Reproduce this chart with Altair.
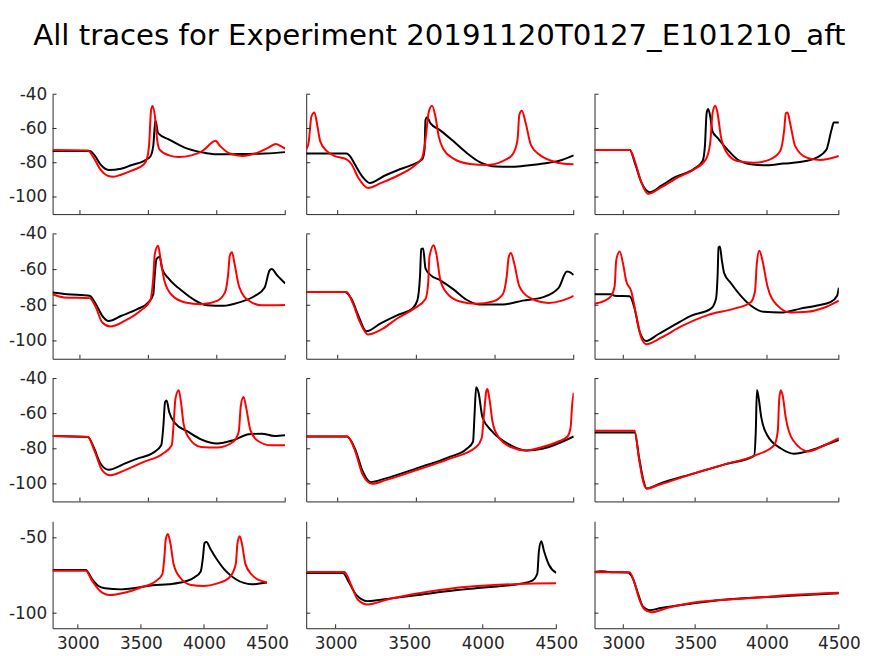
import altair as alt
import pandas as pd

TITLE = "All traces for Experiment 20191120T0127_E101210_aft"
X_TICKS = [3000, 3500, 4000, 4500]
Y_TICKS_TOP = [-40, -60, -80, -100]
Y_TICKS_BOTTOM = [-50, -100]

# ---- row 1 ----
p11_black_t = [2800, 3070, 3110, 3150, 3210, 3300, 3373, 3466, 3513, 3536, 3545, 3552, 3571, 3652, 3769, 3885, 4000, 4118, 4351, 4500]
p11_black_v = [-73.2, -73.2, -76, -81, -84.2, -83.5, -81.5, -79, -76.5, -70, -60, -55.4, -62.7, -66.5, -71.3, -73.8, -75.1, -75, -74.6, -73.8]
p11_red_t = [2800, 3058, 3100, 3150, 3200, 3245, 3300, 3373, 3466, 3490, 3505, 3520, 3531, 3548, 3564, 3582, 3652, 3722, 3815, 3909, 3960, 3990, 4025, 4095, 4188, 4281, 4375, 4433, 4468, 4500]
p11_red_v = [-72.6, -72.8, -77, -84, -87.5, -88.2, -87, -84.7, -81, -77.6, -70, -49.2, -46.9, -53, -66.5, -72.3, -75.7, -76.7, -75.7, -72.3, -68.5, -67.2, -70.3, -74.6, -76, -74.6, -71.3, -69, -70.3, -71.7]

p12_black_t = [2800, 3056, 3085, 3109, 3161, 3203, 3297, 3380, 3464, 3537, 3552, 3558, 3568, 3589, 3652, 3736, 3819, 3903, 4007, 4112, 4216, 4342, 4425, 4500]
p12_black_v = [-74.6, -74.6, -77, -80.9, -88.6, -91.8, -87.6, -84.4, -81.5, -78, -72.3, -55, -53.4, -56.9, -61.1, -67.5, -74.2, -79.6, -82.2, -82.4, -81.5, -80, -78.4, -75.7]
p12_red_t = [2800, 2815, 2833, 2852, 2868, 2889, 2931, 2983, 3056, 3088, 3130, 3192, 3276, 3380, 3485, 3537, 3558, 3579, 3600, 3621, 3642, 3673, 3736, 3840, 3945, 4049, 4112, 4143, 4154, 4170, 4195, 4227, 4279, 4363, 4425, 4500]
p12_red_v = [-72.3, -68.4, -53, -50.6, -56.9, -67.5, -73.2, -76.1, -78, -80.9, -88.6, -94.7, -91.8, -87.6, -81.9, -77, -66.5, -50.2, -46.7, -53, -64.6, -72.3, -77.6, -80.7, -81.3, -79, -75.1, -66.5, -52.1, -49.6, -56.9, -69.4, -75.1, -79, -80.5, -80.9]

p13_black_t = [2800, 3046, 3080, 3126, 3184, 3265, 3357, 3495, 3552, 3568, 3580, 3591, 3605, 3621, 3656, 3725, 3793, 3886, 4000, 4115, 4230, 4345, 4414, 4449, 4465, 4500]
p13_black_v = [-72.5, -72.5, -80, -91.5, -97.2, -93.4, -88.6, -83.4, -79, -70.3, -51, -48.6, -53, -61.7, -65.5, -72.3, -78, -80.9, -81.5, -80.5, -79.6, -77, -72.3, -60.7, -56.5, -56.5]
p13_red_t = [2800, 3046, 3080, 3126, 3172, 3265, 3380, 3495, 3575, 3605, 3621, 3640, 3656, 3679, 3713, 3793, 3908, 4023, 4092, 4120, 4131, 4143, 4161, 4196, 4276, 4368, 4500]
p13_red_v = [-72.6, -72.6, -79, -91.5, -98.2, -94.3, -88.6, -83.8, -78, -68.4, -51.1, -46.7, -51.1, -64.6, -73.2, -79, -80, -78, -73.2, -60.7, -51.1, -50.6, -56.9, -70.3, -77, -78.4, -76.1]

# ---- row 2 ----
p21_black_t = [2800, 2907, 3070, 3117, 3163, 3210, 3303, 3419, 3500, 3536, 3547, 3559, 3582, 3601, 3652, 3745, 3838, 3931, 4047, 4163, 4280, 4350, 4385, 4401, 4443, 4500]
p21_black_v = [-72.8, -73.8, -74.7, -79.4, -85.9, -88.8, -85.9, -82.2, -78.4, -73.8, -62.5, -54.1, -52.8, -59.7, -65.3, -71.9, -77.1, -80, -80.3, -78.4, -74.7, -70, -60.6, -59.7, -63.4, -67.8]
p21_red_t = [2800, 2884, 3070, 3117, 3163, 3221, 3326, 3442, 3513, 3536, 3547, 3571, 3587, 3617, 3676, 3769, 3885, 4002, 4060, 4083, 4095, 4111, 4130, 4165, 4235, 4328, 4500]
p21_red_v = [-73.8, -75.6, -76, -81.3, -89.7, -91.9, -88.8, -83.1, -77.5, -64.4, -51.3, -46.6, -53.1, -66.3, -74.7, -78.4, -79.4, -77.5, -72.8, -62.5, -52.2, -50.3, -56.9, -70, -77.5, -80, -79.8]

p22_black_t = [2800, 3046, 3088, 3130, 3182, 3276, 3380, 3474, 3506, 3523, 3531, 3543, 3558, 3589, 3652, 3736, 3819, 3903, 4049, 4175, 4300, 4404, 4457, 4471, 4500]
p22_black_v = [-72.5, -72.5, -76.5, -85.5, -94.6, -90, -85.5, -81.9, -77.4, -63.9, -48.5, -48.1, -59.3, -63, -66, -71.1, -76.9, -79.6, -79.6, -77.4, -75.6, -70.2, -61.1, -61.3, -63]
p22_red_t = [2800, 3056, 3098, 3140, 3192, 3276, 3380, 3485, 3558, 3575, 3583, 3610, 3627, 3652, 3694, 3777, 3882, 3986, 4049, 4074, 4087, 4101, 4122, 4154, 4216, 4342, 4425, 4500]
p22_red_v = [-72.5, -72.5, -79.2, -89.2, -96.4, -93.7, -87.3, -81.9, -76.5, -67.5, -53, -46.3, -51.2, -65.7, -73.2, -77.9, -79.2, -77.9, -73.8, -63.9, -53, -50.7, -56.6, -69.3, -75.6, -78.7, -77.4, -74.7]

p23_black_t = [2800, 2917, 2940, 3044, 3079, 3113, 3159, 3240, 3356, 3471, 3610, 3645, 3656, 3663, 3672, 3686, 3702, 3748, 3818, 3887, 3979, 4095, 4234, 4349, 4441, 4488, 4500]
p23_black_v = [-73.8, -73.8, -74.7, -75, -81.9, -94.6, -100, -96.4, -91, -85.9, -81.9, -76.5, -63.9, -47.6, -47, -54.8, -62, -67.5, -74.7, -80.1, -83.7, -84.1, -81.9, -80.1, -78.3, -74.7, -70.2]
p23_red_t = [2800, 2871, 2917, 2940, 2951, 2975, 2998, 3021, 3055, 3090, 3125, 3159, 3263, 3402, 3587, 3772, 3887, 3917, 3929, 3947, 3968, 4003, 4072, 4164, 4280, 4395, 4500]
p23_red_v = [-79.2, -77.4, -74.7, -69.3, -54.8, -49.8, -56.6, -66.6, -72, -85.5, -98.2, -101.8, -98.2, -91.9, -85.5, -81.9, -78.3, -72, -56.6, -49.4, -54.8, -69.3, -80.1, -84.1, -83.7, -81.4, -77.4]

# ---- row 3 ----
p31_black_t = [2800, 3058, 3105, 3151, 3210, 3326, 3419, 3536, 3594, 3610, 3622, 3633, 3652, 3698, 3792, 3885, 4002, 4118, 4235, 4328, 4421, 4500]
p31_black_v = [-72.7, -73.3, -80, -88.5, -91.9, -88.5, -85.6, -82.2, -78, -66.6, -53.3, -52.5, -59, -65.7, -70.4, -74.6, -77, -75.2, -71.7, -71.4, -72.7, -72.3]
p31_red_t = [2800, 3058, 3105, 3163, 3221, 3326, 3466, 3605, 3671, 3687, 3698, 3722, 3738, 3757, 3792, 3885, 4002, 4118, 4160, 4176, 4195, 4216, 4246, 4304, 4398, 4500]
p31_red_v = [-72.7, -73.3, -80.9, -92.3, -95.1, -92.3, -87.5, -82.8, -78, -62.8, -51.4, -46.7, -53.3, -65.7, -73.3, -79, -79.3, -76.1, -70.4, -55.2, -50.5, -57.1, -69.5, -75.7, -78, -78]

p32_black_t = [2800, 3060, 3110, 3160, 3210, 3300, 3506, 3700, 3820, 3860, 3870, 3880, 3895, 3920, 3980, 4100, 4200, 4300, 4400, 4500]
p32_black_v = [-73, -73, -80, -93, -99, -97, -91, -85, -80, -76, -60, -45, -48, -62, -70, -78, -81, -80, -77, -73]
p32_red_t = [2800, 3060, 3110, 3160, 3220, 3300, 3506, 3700, 3880, 3915, 3930, 3945, 3952, 3965, 3985, 4020, 4100, 4200, 4300, 4400, 4460, 4480, 4490, 4500]
p32_red_v = [-73, -73, -81, -95, -100, -98, -92, -86, -79, -74, -60, -47, -46, -52, -65, -73, -79, -81, -79, -76, -73, -68, -55, -48]

p33_black_t = [2800, 3079, 3110, 3140, 3162, 3250, 3494, 3700, 3910, 3922, 3930, 3940, 3960, 4000, 4100, 4187, 4300, 4400, 4500]
p33_black_v = [-70.7, -70.7, -85, -98, -102.6, -100, -94, -89, -84, -70, -46.6, -50, -62, -72, -80, -82.8, -81, -78, -75]
p33_red_t = [2800, 3079, 3110, 3140, 3162, 3250, 3494, 3700, 3910, 4050, 4075, 4085, 4096, 4110, 4130, 4180, 4290, 4400, 4500]
p33_red_v = [-69.7, -69.7, -86, -99, -102.6, -100.5, -94, -89, -84, -78, -70, -52, -46.6, -50, -62, -75, -81.5, -78, -74]

# ---- row 4 ----
p41_black_t = [2800, 3063, 3114, 3164, 3215, 3342, 3468, 3595, 3721, 3848, 3923, 3974, 3992, 4004, 4020, 4050, 4100, 4176, 4252, 4379, 4500]
p41_black_v = [-71.4, -71.4, -77.5, -82, -83.5, -84.2, -83.1, -81.5, -80.8, -79, -76.3, -72.3, -62.8, -53.4, -52.7, -57.2, -64, -72.3, -77.5, -80.8, -79.7]
p41_red_t = [2800, 3063, 3114, 3177, 3253, 3367, 3493, 3620, 3670, 3688, 3696, 3713, 3734, 3759, 3810, 3898, 4000, 4100, 4201, 4252, 4265, 4283, 4303, 4328, 4379, 4455, 4500]
p41_red_v = [-71.8, -71.8, -78.6, -85.3, -88, -86.5, -83.1, -78.6, -74.1, -60.6, -51.6, -47.5, -53.8, -67.3, -76.3, -81.3, -82, -80.4, -76.3, -67.3, -53.8, -48.9, -55, -67.3, -74.5, -78.6, -79.7]

p42_black_t = [2800, 3049, 3094, 3139, 3217, 3352, 3576, 3800, 4024, 4248, 4337, 4371, 4382, 4398, 4416, 4449, 4500]
p42_black_v = [-73.3, -73.3, -80.2, -87.7, -92, -90.5, -87.7, -84.9, -82.8, -80.6, -78.4, -73.7, -58.6, -52.2, -58.6, -67.7, -73.3]
p42_red_t = [2800, 3060, 3105, 3150, 3217, 3352, 3576, 3800, 4024, 4248, 4500]
p42_red_v = [-72.6, -72.6, -81.2, -90.9, -94.2, -90.9, -86.6, -83.4, -81.7, -80.6, -80.2]

p43_black_t = [2800, 2848, 2894, 3032, 3067, 3102, 3136, 3182, 3263, 3471, 3702, 3933, 4164, 4500]
p43_black_v = [-72.7, -72.1, -72.7, -73, -77, -86.8, -95.5, -98, -96.5, -93.7, -91.1, -89.6, -88.5, -86.8]
p43_red_t = [2800, 3044, 3079, 3113, 3148, 3194, 3310, 3471, 3702, 3933, 4164, 4500]
p43_red_v = [-72.9, -72.9, -80.3, -91.1, -97.6, -99.4, -96.5, -93.3, -91.1, -89.6, -87.9, -86.4]

traces = [
    [(p11_black_t, p11_black_v, p11_red_t, p11_red_v),
     (p12_black_t, p12_black_v, p12_red_t, p12_red_v),
     (p13_black_t, p13_black_v, p13_red_t, p13_red_v)],
    [(p21_black_t, p21_black_v, p21_red_t, p21_red_v),
     (p22_black_t, p22_black_v, p22_red_t, p22_red_v),
     (p23_black_t, p23_black_v, p23_red_t, p23_red_v)],
    [(p31_black_t, p31_black_v, p31_red_t, p31_red_v),
     (p32_black_t, p32_black_v, p32_red_t, p32_red_v),
     (p33_black_t, p33_black_v, p33_red_t, p33_red_v)],
    [(p41_black_t, p41_black_v, p41_red_t, p41_red_v),
     (p42_black_t, p42_black_v, p42_red_t, p42_red_v),
     (p43_black_t, p43_black_v, p43_red_t, p43_red_v)],
]

ROW_H = [121, 126, 124, 108]
COL_W = [234.8, 270, 246.6]
BOTTOM_W = [216.5, 252.4, 246.6]
AX = "#262626"
LABEL_EXPR = "'' + datum.value"


def panel(r, c):
    bt, bv, rt, rv = traces[r][c]
    bottom = r == 3
    w = BOTTOM_W[c] if bottom else COL_W[c]
    h = ROW_H[r]
    yticks = Y_TICKS_BOTTOM if bottom else Y_TICKS_TOP
    ydom = [-110, -39] if bottom else [-110, -40]
    xs = alt.Scale(domain=[2800, 4500], nice=False, zero=False)
    ys = alt.Scale(domain=ydom, nice=False, zero=False)
    xaxis = alt.Axis(values=X_TICKS, labels=bottom, ticks=False, grid=False, title=None,
                     labelPadding=7, domainColor=AX, labelExpr=LABEL_EXPR,
                     labelFlush=False, labelOverlap=False)
    yaxis = alt.Axis(values=yticks, labels=(c == 0), ticks=False, grid=False, title=None,
                     labelPadding=6, domainColor=AX, labelExpr=LABEL_EXPR,
                     labelFlush=False, labelOverlap=False)
    dfb = pd.DataFrame({"t": bt, "v": bv})
    dfr = pd.DataFrame({"t": rt, "v": rv})
    black = alt.Chart(dfb).mark_line(color="black", strokeWidth=2, interpolate="monotone", clip=True).encode(
        x=alt.X("t:Q", scale=xs, axis=xaxis), y=alt.Y("v:Q", scale=ys, axis=yaxis))
    red = alt.Chart(dfr).mark_line(color="#ff0000", strokeWidth=2, interpolate="monotone", clip=True).encode(
        x=alt.X("t:Q", scale=xs, axis=xaxis), y=alt.Y("v:Q", scale=ys, axis=yaxis))
    ytk = alt.Chart(pd.DataFrame({"v": yticks})).mark_rule(color=AX, strokeWidth=1).encode(
        y=alt.Y("v:Q", scale=ys, axis=yaxis), x=alt.value(0), x2=alt.value(4))
    xtk = alt.Chart(pd.DataFrame({"t": X_TICKS})).mark_rule(color=AX, strokeWidth=1).encode(
        x=alt.X("t:Q", scale=xs, axis=xaxis), y=alt.value(h), y2=alt.value(h - 4))
    return alt.layer(black, red, ytk, xtk).properties(width=w, height=h)


charts = [panel(r, c) for r in range(4) for c in range(3)]

chart = alt.concat(*charts, columns=3).properties(
    title=alt.TitleParams(TITLE, fontSize=29.5, font="DejaVu Sans", fontWeight="normal",
                          color="black", anchor="middle", offset=34, dx=5),
    align="each",
    bounds="flush",
    spacing={"row": 20, "column": 21},
    padding={"left": 0, "top": 10, "right": 5, "bottom": 5},
).configure_view(stroke=None).configure_axis(
    labelFont="DejaVu Sans", labelFontSize=17, labelColor=AX, domainWidth=1
)

chart.save("out.html", embed_options={"renderer": "svg", "actions": False})
